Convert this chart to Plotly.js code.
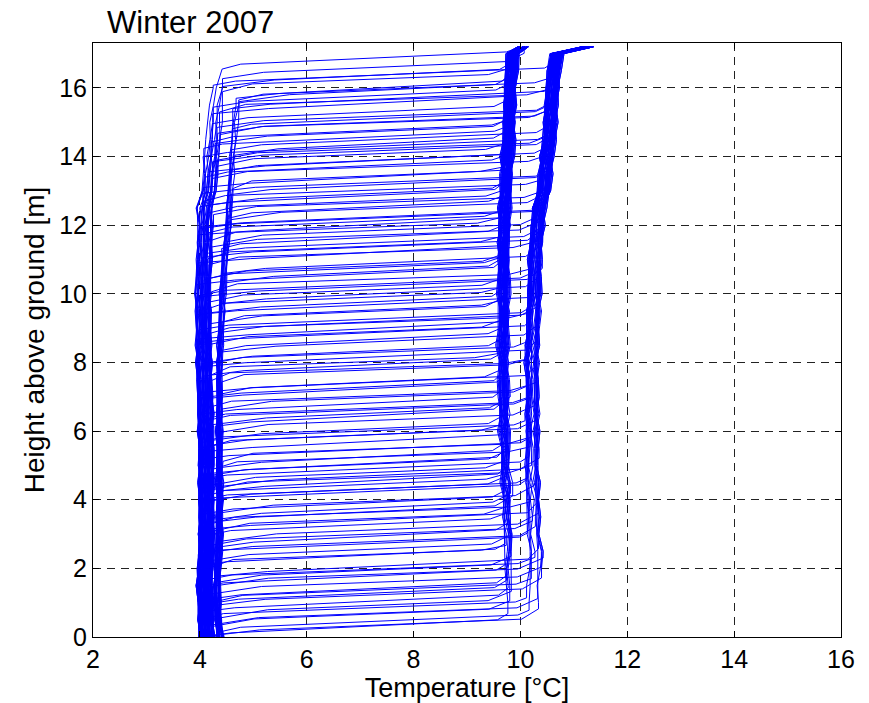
<!DOCTYPE html>
<html>
<head>
<meta charset="utf-8">
<script src="https://cdn.plot.ly/plotly-3.0.1.min.js"></script>
<style>html,body{margin:0;padding:0;background:#fff;}#chart{width:869px;height:703px;}</style>
</head>
<body>
<div id="chart"></div>
<script>
// Sensor heights [m]
const Z = [0,0.5,1,1.5,2,2.5,3,3.5,4,4.5,5,5.5,6,6.5,7,7.5,8,8.5,9,9.5,10,10.5,11,11.5,12,12.5,13,13.5,14,14.5,15,15.5,16,16.5,17,17.2];

// Cold-side temperature profiles [°C] (left bands)
const coldA = [4.00,3.97,3.97,3.96,3.97,3.98,3.98,3.99,3.98,3.99,3.99,3.98,3.97,3.97,3.96,3.95,3.95,3.94,3.93,3.92,3.92,3.93,3.95,3.96,3.96,3.95,4.04,4.07,4.09,4.11,4.14,4.18,4.25,4.33,4.38,4.38];
const coldB = [4.32,4.28,4.26,4.27,4.28,4.29,4.30,4.30,4.31,4.31,4.31,4.30,4.30,4.30,4.31,4.31,4.32,4.33,4.34,4.36,4.37,4.39,4.41,4.45,4.48,4.50,4.52,4.55,4.57,4.59,4.61,4.66,4.72,4.72,4.72,4.72];

// Warm-side temperature profiles [°C] (right bands)
const warmA = [9.30,9.42,9.66,9.68,9.68,9.68,9.67,9.66,9.65,9.64,9.63,9.62,9.60,9.59,9.58,9.58,9.58,9.58,9.58,9.58,9.58,9.58,9.58,9.58,9.59,9.60,9.63,9.64,9.66,9.67,9.68,9.70,9.70,9.72,9.76,9.95];
const warmB = [9.55,9.85,10.14,10.16,10.16,10.16,10.14,10.13,10.12,10.11,10.11,10.10,10.10,10.10,10.10,10.10,10.11,10.11,10.12,10.13,10.14,10.14,10.16,10.18,10.20,10.23,10.33,10.36,10.38,10.41,10.44,10.46,10.48,10.50,10.58,11.15];

// Small measured irregularities along the profiles [°C]
const wiggle1 = [0.02,-0.01,0.03,0,-0.02,0.01,0.03,-0.01,0.02,-0.03,0.01,0.02,-0.02,0.03,0,-0.01,0.02,-0.03,0.01,0.03,-0.02,0,0.02,-0.01,0.03,-0.02,0.01,0.02,-0.03,0.01,0.03,-0.01,0.02,0,-0.02,0];
const wiggle2 = [-0.02,0.02,0,-0.03,0.01,0.03,-0.01,0.02,0,0.03,-0.02,0.01,0.03,-0.01,0.02,0.01,-0.03,0.02,0,-0.01,0.03,0.02,-0.02,0.01,0,0.03,-0.01,-0.02,0.02,0.03,-0.01,0.02,0,0.03,0.01,0];
const wiggle0 = new Array(36).fill(0);

// Spread of individual profiles inside each band (fraction of the band width)
const coldSpread = [0.0,0.55,0.2,0.8,0.35,0.95,0.1,0.65,0.45,0.25,0.85,0.05,0.7,0.4,0.15,0.9,0.6];
const warmSpread = [0.3,0.9,0.1,0.6,0.0,0.75,0.45,1.0,0.2,0.5,0.85,0.15,0.65];

// Thermocline heights of the individual profiles [m]
const thermoclineHeights = [
  0.00, 0.02, 0.14, 0.31, 0.52, 0.56, 0.72, 0.90, 1.04, 1.08,
  1.25, 1.45, 1.60, 1.64, 1.77, 2.03, 2.21, 2.41, 2.45, 2.62,
  2.79, 2.94, 3.08, 3.12, 3.29, 3.43, 3.58, 3.62, 3.93, 3.96,
  4.10, 4.25, 4.29, 4.39, 4.60, 4.69, 4.74, 4.89, 4.93, 5.12,
  5.39, 5.53, 5.57, 5.68, 5.97, 6.14, 6.18, 6.29, 6.49, 6.64,
  6.68, 6.93, 7.08, 7.12, 7.43, 7.60, 7.64, 7.86, 7.95, 8.30,
  8.34, 8.53, 8.68, 8.81, 8.88, 8.95, 9.13, 9.17, 9.39, 9.54,
  9.71, 9.75, 9.92, 10.06, 10.27, 10.31, 10.41, 10.59, 10.85, 10.90,
  11.02, 11.17, 11.32, 11.36, 11.52, 11.72, 11.76, 11.90, 12.16, 12.20,
  12.31, 12.54, 12.58, 12.69, 12.89, 13.07, 13.10, 13.36, 13.56, 13.60,
  13.71, 13.85, 14.00, 14.04, 14.20, 14.38, 14.42, 14.64, 14.81, 14.85,
  14.96, 15.25, 15.30, 15.40, 15.60, 15.65, 15.70, 15.89, 16.04, 16.08,
  16.27, 16.55, 0.35, 0.94, 1.48, 2.06, 2.66, 3.32, 3.99, 4.43,
  5.16, 5.72, 6.33, 6.97, 7.47, 7.99, 8.57, 9.43, 9.96, 10.45,
  11.06, 11.56, 11.94, 12.35, 12.93, 13.40, 13.89, 14.24, 14.68, 15.44
];
// Band pair of each profile: 0/3 coldA+warmA, 1/4 coldA+warmB, 2 coldB+warmB, 5 coldB+warmA
const profileType = [
  0,1,2,3,4,5,0,1,2,3,
  4,0,5,1,2,3,0,4,1,5,
  2,0,3,1,4,5,0,2,1,3,
  0,5,1,2,4,3,0,1,5,2,
  0,3,1,4,2,5,0,1,3,2,
  4,0,5,1,2,3,0,4,1,2,
  5,0,3,1,2,4,0,5,1,3,
  2,0,1,4,3,5,0,2,1,3,
  0,4,5,1,2,3,0,1,2,5,
  4,0,3,1,2,5,0,1,3,2,
  0,4,1,5,2,3,0,1,2,4,
  0,3,1,2,5,2,5,0,3,1,
  3,0,1,0,4,3,1,0,4,3,
  1,0,4,3,1,0,4,3,1,0,
  4,3,1,0,4,3,1,0,4,3
];

const coldOf = [coldA, coldA, coldB, coldA, coldA, coldB];
const warmOf = [warmA, warmB, warmB, warmA, warmB, warmA];
const coldWidth = [0.28, 0.28, 0.12, 0.28, 0.28, 0.12];
const warmWidth = [0.2, 0.22, 0.22, 0.2, 0.22, 0.2];
const wiggles = [wiggle1, wiggle2, wiggle0];
const zTop = Z[Z.length - 1];

const xs = [], ys = [];
thermoclineHeights.forEach((h, i) => {
  const t = profileType[i];
  const c = coldOf[t], w = warmOf[t];
  const sc = coldSpread[i % coldSpread.length];
  const sw = warmSpread[i % warmSpread.length];
  const dc = sc * coldWidth[t];
  const dw = sw * warmWidth[t];
  const wg = wiggles[i % wiggles.length];
  let kLast = 0;
  for (let j = 0; j < Z.length; j++) {
    if (Z[j] < h) { xs.push(c[j] + dc + wg[j]); ys.push(Z[j]); }
    if (Z[j] <= h) kLast = j;
  }
  const c0 = c[kLast] + dc + wg[kLast];
  xs.push(c0); ys.push(h);
  xs.push(c0 + 0.35 + 0.7 * sw); ys.push(Math.min(h + 0.12 + 0.12 * sc, zTop));
  const zPre = Math.min(h + 0.5, zTop - 0.05);
  const zJoin = Math.min(h + 0.62 + 0.2 * sw, zTop);
  let jw = Z.findIndex(v => v >= zJoin);
  if (jw < 0) jw = Z.length - 1;
  xs.push(w[jw] + dw - 0.15 - 0.3 * sc); ys.push(zPre);
  xs.push(w[jw] + dw + 1.5 * wg[jw]); ys.push(zJoin);
  for (let j = jw; j < Z.length; j++) {
    if (Z[j] > zJoin) { xs.push(w[j] + dw + 1.5 * wg[j]); ys.push(Z[j]); }
  }
  xs.push(null); ys.push(null);
});

const font = "Liberation Sans, Arial, Helvetica, sans-serif";
const trace = {
  x: xs, y: ys, type: 'scatter', mode: 'lines', connectgaps: false,
  line: {color: '#0000ff', width: 1}, hoverinfo: 'skip', showlegend: false
};
const axisCommon = {
  showline: true, linecolor: '#000', linewidth: 1, mirror: 'ticks',
  ticks: 'inside', ticklen: 6, tickcolor: '#000', tickwidth: 1,
  showgrid: true, gridcolor: '#222', griddash: '8px,6px', gridwidth: 1,
  zeroline: false, tickfont: {family: font, size: 25, color: '#000'}
};
const layout = {
  width: 869, height: 703,
  margin: {l: 93, r: 28, t: 43, b: 66},
  paper_bgcolor: '#fff', plot_bgcolor: '#fff',
  font: {family: font, color: '#000'},
  title: {text: 'Winter 2007', x: 107/869, xref: 'container', xanchor: 'left',
          y: 1 - 22/703, yref: 'container', yanchor: 'middle',
          font: {family: font, size: 31, color: '#000'}},
  xaxis: Object.assign({}, axisCommon, {
    range: [2, 16], tickvals: [2,4,6,8,10,12,14,16],
    title: {text: 'Temperature [°C]', standoff: 3, font: {family: font, size: 27, color: '#000'}}
  }),
  yaxis: Object.assign({}, axisCommon, {
    range: [0, 17.31], tickvals: [0,2,4,6,8,10,12,14,16],
    title: {text: 'Height above ground [m]', standoff: 6, font: {family: font, size: 28, color: '#000'}}
  })
};
Plotly.newPlot('chart', [trace], layout, {displayModeBar: false, staticPlot: true});
</script>
</body>
</html>
